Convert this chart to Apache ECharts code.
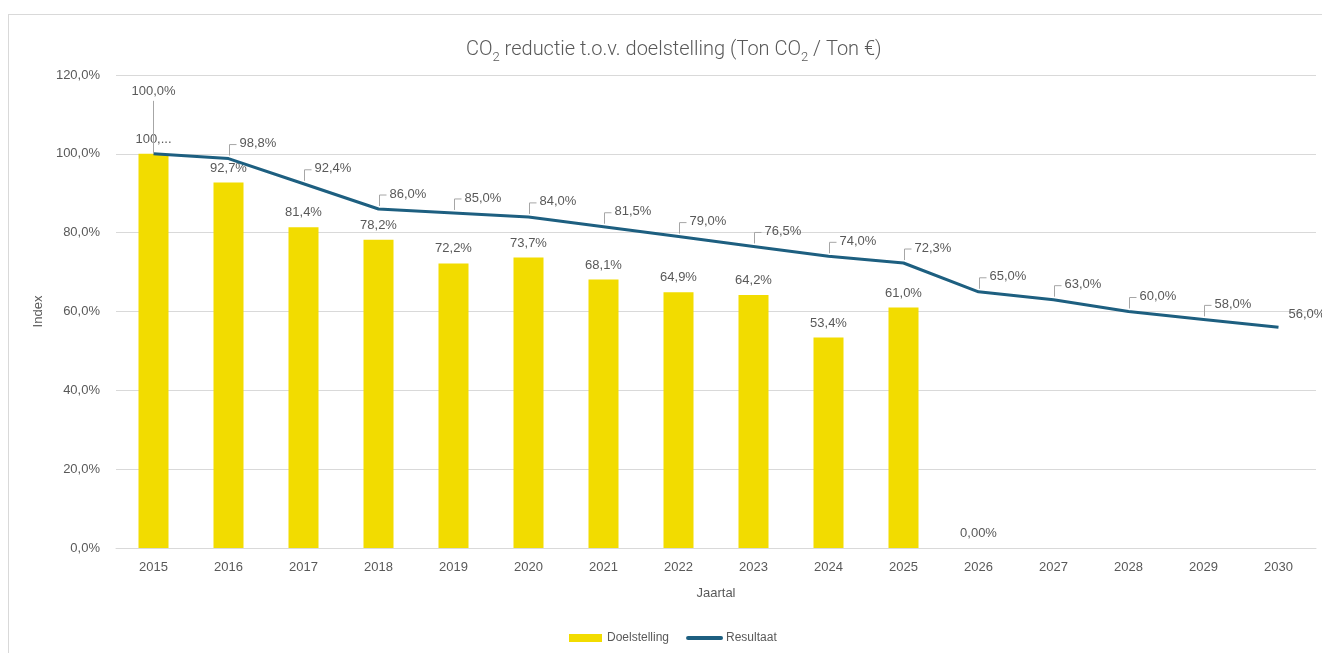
<!DOCTYPE html>
<html><head><meta charset="utf-8">
<script src="https://cdn.jsdelivr.net/npm/echarts@6/dist/echarts.min.js"></script>
<style>
html,body{margin:0;padding:0;background:#fff;overflow:hidden}
#frame{position:absolute;left:8px;top:14px;width:1340px;height:660px;border:1px solid #d9d9d9;box-sizing:border-box}
#chart{position:absolute;left:0;top:0;width:1322px;height:653px}
</style></head>
<body>
<div id="frame"></div>
<div id="chart"></div>
<script>
const years = ['2015','2016','2017','2018','2019','2020','2021','2022','2023','2024','2025','2026','2027','2028','2029','2030'];
const doelstelling = [100, 92.7, 81.4, 78.2, 72.2, 73.7, 68.1, 64.9, 64.2, 53.4, 61.0, 0, null, null, null, null];
const resultaat = [100, 98.8, 92.4, 86.0, 85.0, 84.0, 81.5, 79.0, 76.5, 74.0, 72.3, 65.0, 63.0, 60.0, 58.0, 56.0];
const yTicks = [0, 20, 40, 60, 80, 100, 120];

const grey = '#595959';
const fontFam = '"Liberation Sans", Arial, sans-serif';
const fmt1 = v => v.toFixed(1).replace('.', ',') + '%';

const chart = echarts.init(document.getElementById('chart'));
chart.setOption({
  animation: false,
  textStyle: { fontFamily: fontFam },
  graphic: [{
    type: 'text', left: 466, top: 40,
    style: {
      text: '{a|CO}{s|2}{a| reductie t.o.v. doelstelling (Ton CO}{s|2}{a| / Ton €)}',
      rich: {
        a: { fontSize: 20, fill: grey, fontFamily: 'Roboto, sans-serif', fontWeight: 300, verticalAlign: 'middle', lineHeight: 28 },
        s: { fontSize: 13, fill: grey, fontFamily: 'Roboto, sans-serif', fontWeight: 300, verticalAlign: 'bottom', lineHeight: 12 }
      }
    }
  }],
  grid: { left: 116, right: 6, top: 75, bottom: 105, containLabel: false },
  legend: {
    left: 564, top: 627,
    itemGap: 17, itemWidth: 33, itemHeight: 8,
    textStyle: { color: grey, fontSize: 12, fontFamily: fontFam },
    data: [
      { name: 'Doelstelling', icon: 'rect' },
      { name: 'Resultaat', itemStyle: { color: 'rgba(0,0,0,0)', borderWidth: 0, opacity: 0 }, lineStyle: { width: 4, cap: 'round' } }
    ]
  },
  xAxis: {
    type: 'category', data: years,
    name: 'Jaartal', nameLocation: 'middle', nameGap: 39,
    nameTextStyle: { color: grey, fontSize: 13 },
    axisLine: { lineStyle: { color: '#d9d9d9', width: 1 } },
    axisTick: { show: false },
    axisLabel: { color: grey, fontSize: 13, margin: 13 }
  },
  yAxis: {
    type: 'value', min: yTicks[0], max: yTicks[yTicks.length - 1], interval: 20,
    name: 'Index', nameLocation: 'middle', nameGap: 66, nameRotate: 90,
    nameTextStyle: { color: grey, fontSize: 13 },
    axisLine: { show: false }, axisTick: { show: false },
    axisLabel: { color: grey, fontSize: 13, margin: 16, formatter: v => fmt1(v) },
    splitLine: { lineStyle: { color: '#d9d9d9', width: 1 } }
  },
  series: [
    {
      name: 'Doelstelling', type: 'bar', data: doelstelling, barWidth: 30,
      itemStyle: { color: '#F2DC00' },
      label: {
        show: true, position: 'top', distance: 8, color: grey, fontSize: 13,
        formatter: p => p.value == null ? '' : (p.dataIndex === 0 ? '100,...' : (p.value === 0 ? '0,00%' : fmt1(p.value)))
      }
    },
    {
      name: 'Resultaat', type: 'line', data: resultaat, symbol: 'none',
      lineStyle: { color: '#1D5F80', width: 3 }, itemStyle: { color: '#1D5F80' }, z: 3
    },
    {
      type: 'custom', z: 4, silent: true,
      data: resultaat.map((v, i) => [i, v]),
      renderItem: function (params, api) {
        const i = api.value(0), v = api.value(1);
        const p = api.coord([i, v]);
        const lineStyle = { stroke: '#a6a6a6', lineWidth: 1, fill: null };
        const txt = fmt1(v);
        if (i === 0) {
          return { type: 'group', children: [
            { type: 'polyline', shape: { points: [[p[0], p[1]], [p[0], p[1] - 53]] }, style: lineStyle },
            { type: 'text', x: p[0], y: p[1] - 62, style: { text: txt, fill: grey, fontSize: 13, fontFamily: fontFam, align: 'center', verticalAlign: 'middle' } }
          ]};
        }
        if (i === years.length - 1) {
          return { type: 'text', x: p[0] + 10, y: p[1] - 13, style: { text: txt, fill: grey, fontSize: 13, fontFamily: fontFam, align: 'left', verticalAlign: 'middle' } };
        }
        const d = 14;
        return { type: 'group', children: [
          { type: 'polyline', shape: { points: [[p[0] + 1, p[1] - 3], [p[0] + 1, p[1] - d], [p[0] + 8, p[1] - d]] }, style: lineStyle },
          { type: 'text', x: p[0] + 11, y: p[1] - d - 1, style: { text: txt, fill: grey, fontSize: 13, fontFamily: fontFam, align: 'left', verticalAlign: 'middle' } }
        ]};
      }
    }
  ]
});
</script>
</body></html>
